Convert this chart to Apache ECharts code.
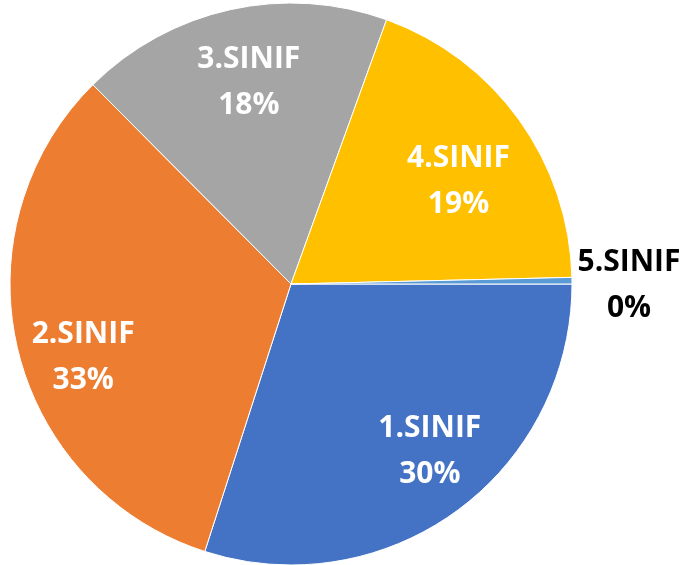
<!DOCTYPE html>
<html>
<head>
<meta charset="utf-8">
<script src="https://cdn.jsdelivr.net/npm/echarts@6/dist/echarts.min.js"></script>
<style>
  html, body { margin: 0; padding: 0; background: #fff; }
  #chart { width: 689px; height: 565px; }
</style>
</head>
<body>
<div id="chart"></div>
<script>
// sınıf adları ve öğrenci sayıları
const categories = ['1.SINIF', '2.SINIF', '3.SINIF', '4.SINIF', '5.SINIF']
const counts = [80, 87, 48, 51, 1]
const colors = ['#4472C4', '#ED7D31', '#A5A5A5', '#FFC000', '#5B9BD5']

const chart = echarts.init(document.getElementById('chart'))

const pieCenter = [291, 284]
const pieRadius = 281

// etiket kaydırmaları (Excel yerleşimine yaklaşmak için)
const labelShift = [[13, -5], [0, 24], [4, 7], [-6, 22], [51, 5]]

const labelFont = {
  fontFamily: '"Open Sans", "Liberation Sans", sans-serif',
  fontWeight: 'bold',
  fontSize: 30,
  lineHeight: 46
}

const option = {
  animation: false,
  series: [
    {
      // dilimler
      type: 'pie',
      center: pieCenter,
      radius: pieRadius,
      startAngle: 0,
      clockwise: true,
      silent: true,
      percentPrecision: 0,
      label: { show: false },
      labelLine: { show: false },
      itemStyle: { borderColor: '#fff', borderWidth: 1 },
      data: categories.map((name, i) => ({
        name,
        value: counts[i],
        itemStyle: { color: colors[i] }
      }))
    },
    {
      // sadece etiketler için şeffaf halka
      type: 'pie',
      center: pieCenter,
      radius: [pieRadius / 2, pieRadius],
      startAngle: 0,
      clockwise: true,
      silent: true,
      percentPrecision: 0,
      avoidLabelOverlap: false,
      itemStyle: { color: 'transparent', borderWidth: 0 },
      label: {
        show: true,
        position: 'inside',
        formatter: '{b}\n{d}%',
        color: '#fff',
        align: 'center',
        ...labelFont
      },
      labelLine: { show: false },
      labelLayout: params => ({
        dx: labelShift[params.dataIndex][0],
        dy: labelShift[params.dataIndex][1],
        align: 'center'
      }),
      data: categories.map((name, i) => {
        const item = { name, value: counts[i] }
        if (i === categories.length - 1) {
          item.label = {
            position: 'outside',
            color: '#000',
            overflow: 'none',
            distanceToLabelLine: 6
          }
          item.labelLine = { show: false, length: 0, length2: 0 }
        }
        return item
      })
    }
  ]
}

chart.setOption(option)
</script>
</body>
</html>
